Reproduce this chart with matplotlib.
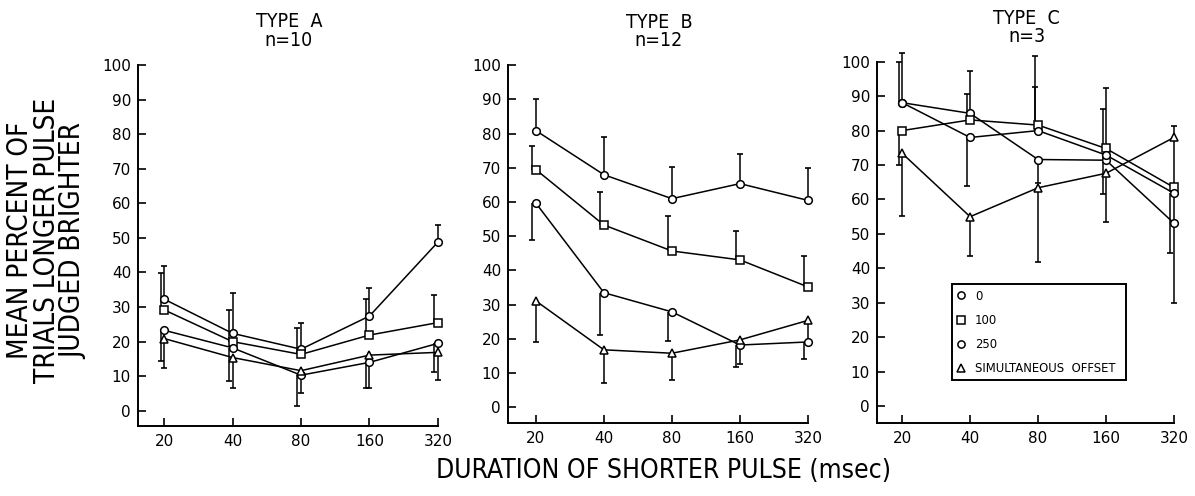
import numpy as np
import matplotlib
matplotlib.use("Agg")
import matplotlib.pyplot as plt
from matplotlib.lines import Line2D

nan = np.nan

# ---------------- data ----------------
durations = [20, 40, 80, 160, 320]
tick_labels = ["20", "40", "80", "160", "320"]
y_ticks = [0, 10, 20, 30, 40, 50, 60, 70, 80, 90, 100]
series_names = ["0", "100", "250", "SIMULTANEOUS  OFFSET"]
panel_titles = ["TYPE  A\nn=10", "TYPE  B\nn=12", "TYPE  C\nn=3"]

# Type A
a_0 = [32.3, 22.4, 17.8, 27.4, 48.8]
a_0_hi = [42.0, 34.2, 25.3, 35.6, 53.8]
a_0_lo = [nan, nan, nan, nan, nan]
a_100 = [29.2, 20.0, 16.3, 21.9, 25.5]
a_100_hi = [39.8, 29.2, 23.9, 32.3, 33.5]
a_100_lo = [nan, nan, nan, nan, nan]
a_250 = [23.3, 18.2, 10.3, 14.0, 19.5]
a_250_hi = [nan, nan, nan, nan, nan]
a_250_lo = [14.5, 8.5, 1.4, 6.5, 11.2]
a_sim = [20.9, 15.4, 11.6, 16.1, 16.9]
a_sim_hi = [nan, nan, nan, nan, nan]
a_sim_lo = [12.3, 6.5, 5.1, 6.5, 8.8]

# Type B
b_0 = [80.9, 68.0, 61.0, 65.4, 60.5]
b_0_hi = [90.0, 79.1, 70.2, 74.2, 70.0]
b_0_lo = [nan, nan, nan, nan, nan]
b_100 = [69.5, 53.3, 45.7, 43.1, 35.2]
b_100_hi = [76.5, 62.9, 56.0, 51.6, 44.2]
b_100_lo = [nan, nan, nan, nan, nan]
b_250 = [59.7, 33.5, 27.9, 18.2, 19.1]
b_250_hi = [nan, nan, nan, nan, nan]
b_250_lo = [48.9, 21.0, 19.5, 11.9, 14.1]
b_sim = [31.1, 16.8, 15.8, 19.7, 25.4]
b_sim_hi = [nan, nan, nan, nan, nan]
b_sim_lo = [19.2, 7.2, 8.0, 12.6, 19.1]

# Type C
c_0 = [88.1, 85.0, 71.6, 71.4, 53.1]
c_0_hi = [102.6, 97.4, nan, 92.5, nan]
c_0_lo = [nan, nan, 64.9, nan, 29.8]
c_100 = [80.0, 83.1, 81.6, 74.8, 63.5]
c_100_hi = [nan, 90.5, 92.7, 86.2, nan]
c_100_lo = [70.0, nan, nan, nan, nan]
c_250 = [88.1, 78.0, 80.0, 72.9, 61.8]
c_250_hi = [100.0, nan, 101.7, nan, nan]
c_250_lo = [nan, 64.0, nan, 61.6, 44.6]
c_sim = [73.4, 55.0, 63.4, 67.6, 78.0]
c_sim_hi = [nan, nan, nan, nan, 81.3]
c_sim_lo = [55.3, 43.6, 41.7, 53.5, 53.1]

panels = [
    [(a_0, a_0_hi, a_0_lo), (a_100, a_100_hi, a_100_lo),
     (a_250, a_250_hi, a_250_lo), (a_sim, a_sim_hi, a_sim_lo)],
    [(b_0, b_0_hi, b_0_lo), (b_100, b_100_hi, b_100_lo),
     (b_250, b_250_hi, b_250_lo), (b_sim, b_sim_hi, b_sim_lo)],
    [(c_0, c_0_hi, c_0_lo), (c_100, c_100_hi, c_100_lo),
     (c_250, c_250_hi, c_250_lo), (c_sim, c_sim_hi, c_sim_lo)],
]

# ---------------- style ----------------
markers = ["o", "s", "o", "^"]
bar_shift = [1.0, 0.965, 0.965, 1.0]   # multiplicative x shift of error bars (log axis)
thin = dict(family="DejaVu Sans", stretch="condensed", weight=200)
tick_font = ["DejaVu Sans"]

W, H = 1195, 496
fig = plt.figure(figsize=(W / 100, H / 100), dpi=100)

# axes boxes in pixels: left, right, top(100 value px), bottom spine px, y at bottom, xlim steps
boxes = [
    (138, 440, 65.0, 426, -4.4, -0.38, 4.03),
    (508, 810, 65.3, 423, -4.6, -0.41, 4.03),
    (877, 1176, 61.7, 423, -4.9, -0.37, 4.03),
]

axes = []
for i, (l, r, t, b, ybot, xl, xr) in enumerate(boxes):
    ax = fig.add_axes([l / W, 1 - b / H, (r - l) / W, (b - t) / H])
    ax.set_xscale("log", base=2)
    ax.set_xlim(20 * 2 ** xl, 20 * 2 ** xr)
    ax.set_ylim(ybot, 100)
    for s in ["top", "right"]:
        ax.spines[s].set_visible(False)
    for s in ["left", "bottom"]:
        ax.spines[s].set_linewidth(1.4)
    ax.spines["bottom"].set_bounds(20 * 2 ** xl, 320)
    ax.set_xticks(durations)
    ax.set_xticklabels(tick_labels, fontsize=11, family=tick_font)
    ax.minorticks_off()
    ax.set_yticks(y_ticks)
    ax.set_yticklabels([str(v) for v in y_ticks], fontsize=11, family=tick_font)
    ax.tick_params(axis="both", direction="in", length=6, width=1.2, pad=5)
    ax.tick_params(axis="x", pad=6)
    ax.patch.set_visible(False)

    for k, (vals, hi, lo) in enumerate(panels[i]):
        vals = np.array(vals, dtype=float)
        hi = np.array(hi, dtype=float)
        lo = np.array(lo, dtype=float)
        xs = np.array(durations, dtype=float) * bar_shift[k]
        for ends in (hi, lo):
            m = ~np.isnan(ends)
            ax.vlines(xs[m], vals[m], ends[m], color="black", lw=1.1,
                      zorder=2, clip_on=False)
            ax.plot(xs[m], ends[m], ls="none", marker="_", ms=5, mew=1.2,
                    color="black", zorder=2, clip_on=False)
        ax.plot(durations, vals, color="black", lw=1.1, marker=markers[k],
                ms=5.5 if markers[k] != "s" else 5.2, mfc="white", mec="black",
                mew=1.1, zorder=3, clip_on=False)

    ax.set_title(panel_titles[i], fontsize=14, linespacing=0.95, pad=14,
                 **thin)
    axes.append(ax)

# legend in panel C
handles = [Line2D([], [], ls="none", marker=m, ms=5.2, mfc="white",
                  mec="black", mew=1.1, color="black") for m in markers]
leg = axes[2].legend(handles, series_names, loc="lower left",
                     bbox_to_anchor=(0.251, 0.119, 0.582, 0.263), mode="expand",
                     frameon=True, fancybox=False, framealpha=1,
                     edgecolor="black", handlelength=0.6, handletextpad=0.9,
                     labelspacing=0.95, borderpad=0.45, borderaxespad=0,
                     prop={"family": "DejaVu Sans", "size": 8.4})
leg.get_frame().set_linewidth(1.4)

fig.text(0.039, 0.515, "MEAN PERCENT OF\nTRIALS LONGER PULSE\nJUDGED BRIGHTER",
         rotation=90, ha="center", va="center", fontsize=20,
         linespacing=0.92, **thin)
fig.text(0.555, 0.05, "DURATION OF SHORTER PULSE (msec)", ha="center",
         va="center", fontsize=19, **thin)

fig.savefig("out.png", dpi=100)
